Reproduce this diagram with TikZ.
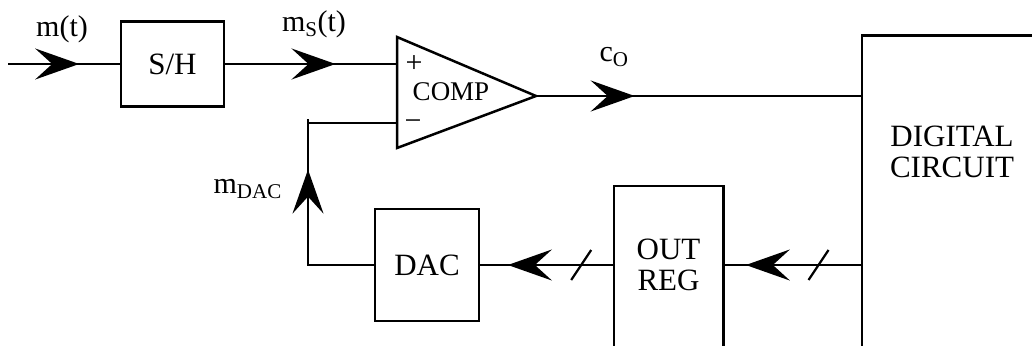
\documentclass[tikz,border=0pt]{standalone}
\usepackage{fontspec}
\setmainfont{Liberation Serif}
\usetikzlibrary{arrows.meta,decorations.markings,positioning}

\begin{document}
\begin{tikzpicture}[x=1pt,y=-1pt,
  ln/.style={line width=2.5pt},
  blk/.style={ln,draw,rectangle,inner sep=0pt,align=center,font=\fontsize{31}{31}\selectfont},
  lbl/.style={font=\fontsize{30}{30}\selectfont,inner sep=0pt},
  midarr/.style={postaction={decorate,decoration={markings,mark=at position #1 with {\arrow{Stealth[length=44pt,width=31pt,inset=17pt]}}}}},
  busmark/.style={postaction={decorate,decoration={markings,mark=at position #1 with {\draw[line width=2.2pt] (-10,15) -- (10,-15);}}}}]
\useasboundingbox (0,0) rectangle (1032,345);
% blocks
\node[blk,minimum width=103pt,minimum height=85pt] (sh) at (172.5,64) {S/H};
\node[blk,minimum width=104pt,minimum height=112pt] (dac) at (427,265) {DAC};
\node[blk,draw=none,minimum width=107pt,minimum height=156pt] (reg) at (668.5,265) {OUT\\REG};
\node[blk,draw=none,minimum width=178pt,minimum height=230pt] (dc) at (952,152) {DIGITAL\\CIRCUIT};
\draw[ln] ([yshift=-50pt]reg.south west) -- (reg.north west) -- (reg.north east) -- ([yshift=-50pt]reg.south east);
\draw[ln] (dc.north east) -- (dc.north west) -- ([yshift=-100pt]dc.south west);
% comparator
\coordinate (ctop) at (397,37);
\coordinate (cbot) at (397,148);
\coordinate (cout) at (536,96);
\coordinate (cplus) at (397,64);
\coordinate (cminus) at (397,123);
\draw[ln,line join=miter] (ctop) -- (cout) -- (cbot) -- cycle;
\node[font=\fontsize{27}{27}\selectfont,inner sep=0pt] (complbl) at (451,92) {COMP};
\node[font=\fontsize{30}{30}\selectfont,inner sep=0pt] (plus) at (414,64) {+};
\node[font=\fontsize{30}{30}\selectfont,inner sep=0pt] (minus) at (413,125) {−};
% signals
\coordinate (min) at (8,64);
\coordinate (fbtop) at (308,119);
\draw[ln,midarr=0.637] (min) -- (sh.west);
\draw[ln,midarr=0.642] (sh.east) -- (cplus);
\draw[ln,midarr=0.303] (cout) -- (dc.west |- cout);
\draw[ln,midarr=0.837,busmark=0.312] (dc.west |- reg) -- (reg.east);
\draw[ln,midarr=0.793,busmark=0.244] (reg.west) -- (dac.east);
\draw[ln,midarr=0.761] (dac.west) -| (fbtop);
\draw[ln] (fbtop |- cminus) -- (cminus);
% labels
\node[lbl] (mt) at (62,29) {m(t)};
\node[lbl] (ms) at (314,24) {m\textsubscript{S}(t)};
\node[lbl] (co) at (614,57) {c\textsubscript{O}};
\node[lbl,anchor=base east] (mdac) at (282,193) {m\textsubscript{DAC}};
\end{tikzpicture}
\end{document}
